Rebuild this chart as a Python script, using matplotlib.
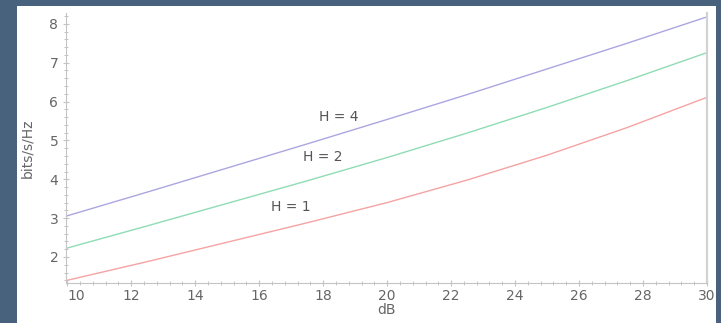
import matplotlib
matplotlib.use("Agg")
import matplotlib.pyplot as plt
from matplotlib.patches import Rectangle
from matplotlib.ticker import MultipleLocator

# values (dB -> bits/s/Hz)
snr_db = [10, 12.5, 15, 17.5, 20, 22.5, 25, 27.5, 30]
cap_h4 = [3.06, 3.67, 4.29, 4.91, 5.54, 6.18, 6.84, 7.50, 8.18]
cap_h2 = [2.23, 2.80, 3.38, 3.96, 4.56, 5.19, 5.85, 6.54, 7.26]
cap_h1 = [1.40, 1.88, 2.38, 2.88, 3.40, 3.98, 4.62, 5.33, 6.11]
curve_labels = ["H = 4", "H = 2", "H = 1"]
label_pos = [(18.5, 5.60), (18.0, 4.57), (17.0, 3.28)]
x_ticks = [10, 12, 14, 16, 18, 20, 22, 24, 26, 28, 30]
y_ticks = [2, 3, 4, 5, 6, 7, 8]

border = "#48627e"
axis_grey = "#c4c4c4"
text_grey = "#666666"

fig = plt.figure(figsize=(7.21, 3.23), dpi=100)
fig.patch.set_facecolor(border)
# white slide area, kept behind the axes
slide = Rectangle((17 / 721, 0), (716 - 17) / 721, (323 - 6) / 323,
                  transform=fig.transFigure, facecolor="white",
                  edgecolor="none", zorder=-5)
fig.patches.append(slide)

ax = fig.add_axes([66 / 721, 40 / 323, (707 - 66) / 721, (283 - 13) / 323])
ax.set_facecolor("none")

ax.plot(snr_db, cap_h4, color="#aba6e2", lw=1.0)
ax.plot(snr_db, cap_h2, color="#8fdcb4", lw=1.0)
ax.plot(snr_db, cap_h1, color="#f5a3a3", lw=1.0)

for txt, (tx, ty) in zip(curve_labels, label_pos):
    ax.text(tx, ty, txt, fontsize=10, color="#555555", ha="center", va="center")

ax.set_xlim(9.96, 30)
ax.set_ylim(1.33, 8.28)
ax.set_xticks(x_ticks)
ax.set_yticks(y_ticks)
ax.xaxis.set_minor_locator(MultipleLocator(0.4))
ax.yaxis.set_minor_locator(MultipleLocator(0.2))

ax.spines["top"].set_visible(False)
ax.spines["left"].set_color(axis_grey)
ax.spines["bottom"].set_color(axis_grey)
ax.spines["right"].set_color("#d2d2d2")
ax.spines["right"].set_linewidth(1.6)

ax.tick_params(which="major", direction="inout", length=5, width=0.8,
               color=axis_grey, labelcolor=text_grey, labelsize=10)
ax.tick_params(which="minor", direction="inout", length=3, width=0.7, color=axis_grey)
ax.tick_params(axis="x", pad=2)
ax.tick_params(axis="y", pad=3)

ax.set_xlabel("dB", fontsize=10, color=text_grey, labelpad=0)
ax.set_ylabel("bits/s/Hz", fontsize=10, color=text_grey, labelpad=11)

xlabels = ax.get_xticklabels()
# first x label sits to the right of its tick, last one is cut by the slide edge
xlabels[0].set_ha("left")
xlabels[-1].set_clip_on(True)
xlabels[-1].set_clip_path(slide)

fig.savefig("out.png", dpi=100, facecolor=fig.get_facecolor())
